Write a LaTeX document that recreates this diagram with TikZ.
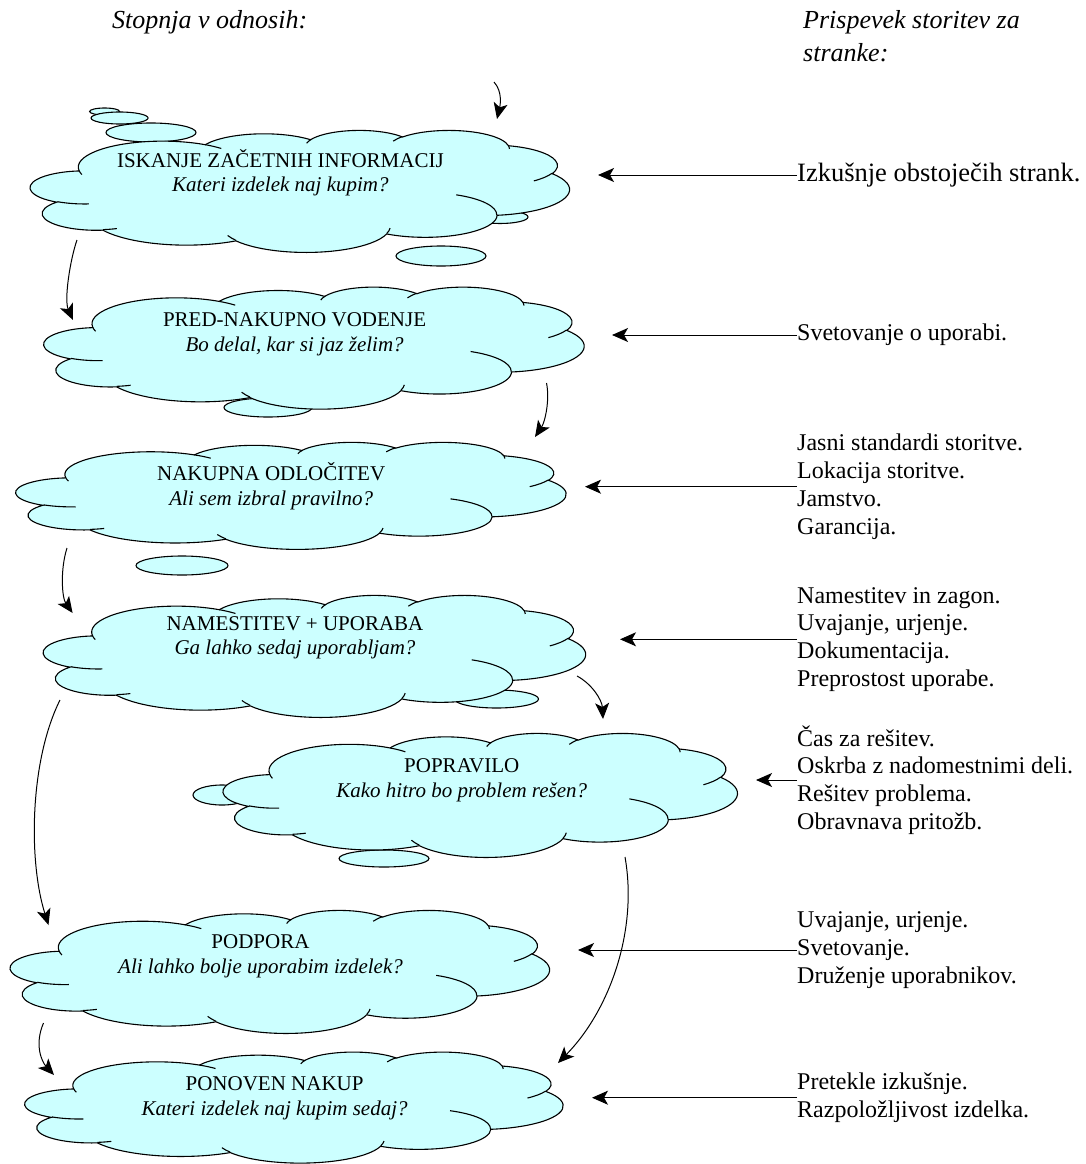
\documentclass[tikz,border=0pt]{standalone}
\usepackage{fontspec}
\setmainfont{Liberation Serif}
\usetikzlibrary{arrows.meta}

\definecolor{cloudfill}{HTML}{CCFFFF}

% elliptic arc given as in DrawingML: radii, start angle and sweep (visual angles)
\newcommand\carc[4]{arc[x radius=#1, y radius=#2,
  start angle={atan2(#1*sin(#3),#2*cos(#3))},
  delta angle={mod(atan2(#1*sin(#3+#4),#2*cos(#3+#4))-atan2(#1*sin(#3),#2*cos(#3))+720,360)}]}

% cloud outline in a 100 x 100 box: left, top, width, height
\newcommand\cloudshape[4]{%
\begin{scope}[shift={(#1,#2)},xscale=#3/100,yscale=#4/100]
  \path[cloudbody] (9.028,33.264)
    \carc{15.632}{21.273}{-190.4875}{123.7805}
    \carc{12.345}{16.822}{-144.1024}{89.9452}
    \carc{10.104}{13.762}{-145.8079}{99.7230}
    \carc{11.243}{15.266}{-130.9861}{117.2417}
    \carc{12.345}{16.836}{-78.7089}{109.0269}
    \carc{15.683}{21.343}{-46.2673}{130.2690}
    \carc{13.391}{18.211}{0.6250}{114.0333}
    \carc{15.630}{21.331}{22.4516}{115.1726}
    \carc{17.870}{24.405}{66.2426}{75.7110}
    \carc{10.093}{13.699}{-274.9421}{146.7356}
    \carc{10.058}{13.762}{-246.8285}{152.5189}
    -- cycle;
  \path[cloudcrease] (10.863,60.595) \carc{10.058}{13.762}{86.7420}{26.4295}
    (16.037,80.785) \carc{10.093}{13.699}{73.6105}{11.4475}
    (38.144,90.486) \carc{15.630}{21.331}{137.6242}{14.0811}
    (66.729,80.442) \carc{15.630}{21.331}{6.4533}{15.9984}
    (79.002,53.134) \carc{13.391}{18.211}{-70.2924}{70.9174}
    (96.755,35.542) \carc{12.345}{16.836}{30.3180}{27.7515}
    (88.713,12.560) \carc{11.243}{15.266}{-13.7443}{14.8589}
    (67.310,9.148) \carc{11.243}{15.266}{-149.1815}{18.1954}
    (51.252,10.926) \carc{10.104}{13.762}{-163.4943}{17.6864}
    (32.407,12.019) \carc{15.632}{21.273}{-66.7070}{12.3194}
    (9.553,36.549) \carc{15.632}{21.273}{157.6544}{11.8582};
\end{scope}}

\begin{document}
\begin{tikzpicture}[x=1pt,y=-1pt,
  cloudbody/.style={fill=cloudfill,draw=black,line width=1.1pt},
  cloudcrease/.style={draw=black,line width=1.1pt},
  bubble/.style={fill=cloudfill,draw=black,line width=1.1pt},
  flow/.style={draw=black,line width=1pt,-{Stealth[length=16pt,width=14pt,inset=4pt]}},
  cloudtitle/.style={anchor=base,inner sep=0pt,font=\fontsize{21}{24.5}\selectfont},
  cloudquestion/.style={anchor=base,inner sep=0pt,font=\fontsize{21}{24.5}\selectfont\itshape},
  service/.style={anchor=west,inner sep=0pt,align=left,font=\fontsize{24}{27.7}\selectfont},
  heading/.style={anchor=base west,inner sep=0pt,font=\fontsize{26}{33.3}\selectfont\itshape}]

\useasboundingbox (0,0) rectangle (1085,1164);

% column headings
\node[heading] (hleft) at (112,29) {Stopnja v odnosih:};
\node[heading] (hright1) at (803,28.3) {Prispevek storitev za};
\node[heading] (hright2) at (803,61.6) {stranke:};

% thought bubbles behind the clouds
\path[bubble] (104.6,111.5) ellipse[x radius=15, y radius=3.5];
\path[bubble] (119.6,118) ellipse[x radius=28.5, y radius=6];
\path[bubble] (151,132.5) ellipse[x radius=45, y radius=9.5];
\path[bubble] (500,217) ellipse[x radius=28, y radius=6.5];
\path[bubble] (441,256) ellipse[x radius=45, y radius=10];
\path[bubble] (268,407.5) ellipse[x radius=44, y radius=9.5];
\path[bubble] (182,565.5) ellipse[x radius=46, y radius=9.5];
\path[bubble] (496.5,699) ellipse[x radius=42, y radius=9];
\path[bubble] (222,795) ellipse[x radius=29, y radius=10];
\path[bubble] (384,858.5) ellipse[x radius=45, y radius=8.5];

% stages
\cloudshape{30.4}{130}{539}{122}
\cloudshape{44}{286.7}{540}{122}
\cloudshape{16}{442}{550}{107}
\cloudshape{43.5}{595}{542}{122}
\cloudshape{223.3}{733}{514}{124}
\cloudshape{10.4}{910}{539}{123}
\cloudshape{25}{1051.7}{538}{111}

\node[cloudtitle] (s1) at (280.4,167.3) {ISKANJE ZAČETNIH INFORMACIJ};
\node[cloudquestion] (q1) at (280.4,191.7) {Kateri izdelek naj kupim?};
\node[cloudtitle] (s2) at (294.6,326.7) {PRED-NAKUPNO VODENJE};
\node[cloudquestion] (q2) at (294.6,351) {Bo delal, kar si jaz želim?};
\node[cloudtitle] (s3) at (271.2,480) {NAKUPNA ODLOČITEV};
\node[cloudquestion] (q3) at (271.2,505) {Ali sem izbral pravilno?};
\node[cloudtitle] (s4) at (295,630) {NAMESTITEV + UPORABA};
\node[cloudquestion] (q4) at (295,654) {Ga lahko sedaj uporabljam?};
\node[cloudtitle] (s5) at (461.8,772) {POPRAVILO};
\node[cloudquestion] (q5) at (461.8,797) {Kako hitro bo problem rešen?};
\node[cloudtitle] (s6) at (260.5,948.3) {PODPORA};
\node[cloudquestion] (q6) at (260.5,973) {Ali lahko bolje uporabim izdelek?};
\node[cloudtitle] (s7) at (274.6,1090) {PONOVEN NAKUP};
\node[cloudquestion] (q7) at (274.6,1115) {Kateri izdelek naj kupim sedaj?};

% service contributions
\node[service,font=\fontsize{26.5}{30}\selectfont] (r1) at (797,175) {Izkušnje obstoječih strank.};
\node[service] (r2) at (797,335) {Svetovanje o uporabi.};
\node[service] (r3) at (797,486.7) {Jasni standardi storitve.\\Lokacija storitve.\\Jamstvo.\\Garancija.};
\node[service] (r4) at (797,639.3) {Namestitev in zagon.\\Uvajanje, urjenje.\\Dokumentacija.\\Preprostost uporabe.};
\node[service] (r5) at (797,780) {Čas za rešitev.\\Oskrba z nadomestnimi deli.\\Rešitev problema.\\Obravnava pritožb.};
\node[service] (r6) at (797,950) {Uvajanje, urjenje.\\Svetovanje.\\Druženje uporabnikov.};
\node[service] (r7) at (797,1097.7) {Pretekle izkušnje.\\Razpoložljivost izdelka.};

\coordinate (t1) at (598,175);
\coordinate (t2) at (612,335);
\coordinate (t3) at (585,486.7);
\coordinate (t4) at (620,639.3);
\coordinate (t5) at (756,780);
\coordinate (t6) at (578,950);
\coordinate (t7) at (592,1097.7);

\draw[flow] (r1.west) -- (t1);
\draw[flow] (r2.west) -- (t2);
\draw[flow] (r3.west) -- (t3);
\draw[flow] (r4.west) -- (t4);
\draw[flow] (r5.west) -- (t5);
\draw[flow] (r6.west) -- (t6);
\draw[flow] (r7.west) -- (t7);

% flow between the stages
\coordinate (k0s) at (494,82);   \coordinate (k0e) at (497,119);
\coordinate (k12s) at (77,240);  \coordinate (k12e) at (73,320);
\coordinate (k23s) at (546.5,383); \coordinate (k23e) at (535,437);
\coordinate (k34s) at (67,548);  \coordinate (k34e) at (72.6,613);
\coordinate (k45s) at (577,676); \coordinate (k45e) at (603,719);
\coordinate (k46s) at (60,700);  \coordinate (k46e) at (48.5,925);
\coordinate (k57s) at (625,857); \coordinate (k57e) at (558,1063);
\coordinate (k67s) at (43.5,1023); \coordinate (k67e) at (54,1075);

\draw[flow] (k0s) .. controls (503,92) and (500,106) .. (k0e);
\draw[flow] (k12s) .. controls (70,260) and (64,300) .. (k12e);
\draw[flow] (k23s) .. controls (550,400) and (545,422) .. (k23e);
\draw[flow] (k34s) .. controls (60,570) and (62,598) .. (k34e);
\draw[flow] (k45s) .. controls (592,684) and (602,700) .. (k45e);
\draw[flow] (k46s) .. controls (30,760) and (28,860) .. (k46e);
\draw[flow] (k57s) .. controls (638,930) and (610,1010) .. (k57e);
\draw[flow] (k67s) .. controls (34,1045) and (42,1062) .. (k67e);
\end{tikzpicture}
\end{document}
